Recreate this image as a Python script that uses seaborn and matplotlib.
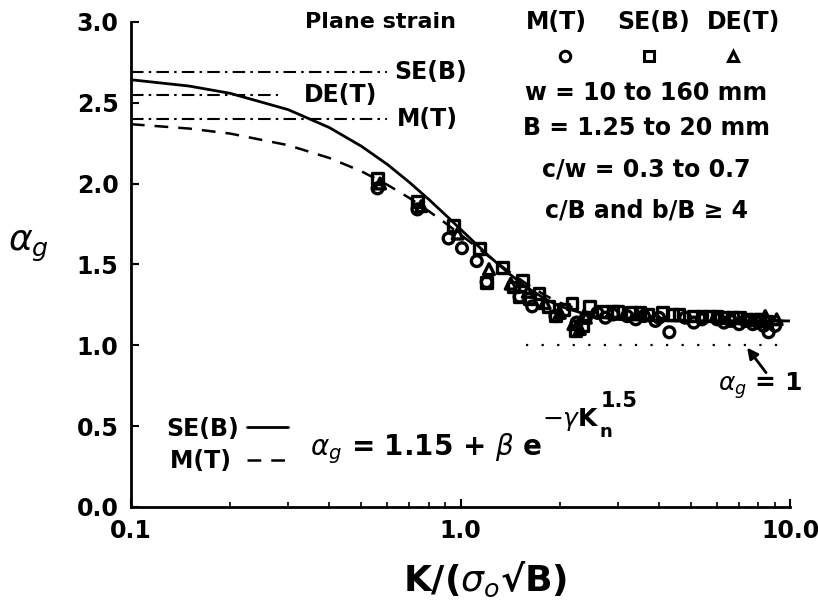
import numpy as np
import pandas as pd
import matplotlib
matplotlib.use("Agg")
import matplotlib.pyplot as plt
from matplotlib.lines import Line2D
from matplotlib.ticker import FixedLocator, NullFormatter, LogLocator
import seaborn as sns

# ---------------- data ----------------
# fitted curves
curve_k = [0.1, 0.15, 0.2, 0.3, 0.4, 0.5, 0.6, 0.7, 0.8, 0.9, 1.0, 1.2, 1.4,
           1.6, 1.8, 2.0, 2.5, 3.0, 4.0, 5.0, 10.0]
seb_curve = [2.642, 2.603, 2.558, 2.457, 2.346, 2.231, 2.118, 2.007, 1.903,
             1.806, 1.717, 1.564, 1.444, 1.353, 1.288, 1.241, 1.180, 1.159,
             1.151, 1.150, 1.150]
mt_curve = [2.367, 2.340, 2.309, 2.237, 2.158, 2.076, 1.992, 1.910, 1.830,
            1.755, 1.684, 1.559, 1.456, 1.374, 1.310, 1.263, 1.193, 1.165,
            1.151, 1.150, 1.150]

# plateau (limit) values
plateau_names = ["SE(B)", "DE(T)", "M(T)"]
plateau_vals = [2.69, 2.55, 2.40]
plateau_end = [0.60, 0.28, 0.60]

# test data
mt_k = [0.56, 0.74, 0.92, 1.01, 1.12, 1.20, 1.51, 1.65, 1.94, 2.25, 2.4, 2.6,
        2.75, 2.9, 3.2, 3.4, 3.6, 3.9, 4.0, 4.3, 4.8, 5.1, 5.4, 6.0, 6.3,
        6.6, 7.0, 7.3, 7.7, 8.0, 8.3, 8.6, 9.0]
mt_a = [1.97, 1.84, 1.66, 1.60, 1.52, 1.39, 1.30, 1.24, 1.18, 1.14, 1.17, 1.20,
        1.17, 1.19, 1.18, 1.16, 1.18, 1.15, 1.17, 1.08, 1.17, 1.14, 1.16, 1.16,
        1.14, 1.15, 1.13, 1.15, 1.13, 1.14, 1.12, 1.08, 1.12]
seb_k = [0.56, 0.74, 0.95, 1.14, 1.20, 1.34, 1.45, 1.51, 1.54, 1.62, 1.73,
         1.85, 1.94, 2.05, 2.18, 2.23, 2.35, 2.46, 2.7, 2.9, 3.0, 3.3, 3.5,
         3.7, 4.1, 4.4, 4.6, 5.1, 5.4, 5.7, 6.0, 6.3, 6.7, 7.0, 7.4, 7.8,
         8.1, 8.5]
seb_a = [2.03, 1.89, 1.74, 1.60, 1.39, 1.48, 1.36, 1.30, 1.40, 1.29, 1.32,
         1.24, 1.18, 1.22, 1.26, 1.09, 1.12, 1.24, 1.21, 1.21, 1.21, 1.20,
         1.20, 1.19, 1.20, 1.19, 1.19, 1.18, 1.18, 1.18, 1.18, 1.17, 1.17,
         1.17, 1.16, 1.16, 1.16, 1.15]
det_k = [0.57, 0.76, 0.98, 1.22, 1.42, 1.60, 1.80, 2.0, 2.2, 2.3, 2.4, 8.4,
         9.1]
det_a = [2.00, 1.86, 1.69, 1.47, 1.38, 1.33, 1.26, 1.20, 1.13, 1.10, 1.17,
         1.18, 1.16]

xtick_vals = [0.1, 1.0, 10.0]
xtick_labels = ["0.1", "1.0", "10.0"]
ytick_vals = [0.0, 0.5, 1.0, 1.5, 2.0, 2.5, 3.0]
ytick_labels = ["0.0", "0.5", "1.0", "1.5", "2.0", "2.5", "3.0"]

# ---------------- style ----------------
sns.set_style("ticks")
plt.rcParams["font.family"] = ["DejaVu Sans"]
plt.rcParams["mathtext.fontset"] = "dejavusans"
plt.rcParams["text.color"] = "black"
plt.rcParams["axes.labelcolor"] = "black"

fig = plt.figure(figsize=(8.18, 6.07), dpi=100)
ax = fig.add_axes([0.160, 0.165, 0.806, 0.799])

# curves
ax.plot(curve_k, seb_curve, color="black", lw=2.0, solid_capstyle="butt")
ax.plot(curve_k, mt_curve, color="black", lw=1.8, linestyle=(0, (5.5, 4)))

# plateau lines
for v, e in zip(plateau_vals, plateau_end):
    ax.hlines(v, 0.1, e, colors="black", lw=1.5,
              linestyles=[(0, (6, 2.5, 1.2, 2.5))])

# alpha_g = 1 dotted line
ax.hlines(1.0, 1.58, 10.0, colors="black", lw=1.6, linestyles=[(0, (1, 6))])

# data points
df = pd.concat([
    pd.DataFrame({"K": mt_k, "a": mt_a, "series": "M(T)"}),
    pd.DataFrame({"K": seb_k, "a": seb_a, "series": "SE(B)"}),
    pd.DataFrame({"K": det_k, "a": det_a, "series": "DE(T)"}),
])
marker_map = {"M(T)": "o", "SE(B)": "s", "DE(T)": "^"}
for name, sub in df.groupby("series"):
    sns.scatterplot(data=sub, x="K", y="a", marker=marker_map[name], s=60,
                    facecolor="none", edgecolor="black", linewidth=2.4,
                    ax=ax, legend=False, zorder=3)

ax.set_xscale("log")
ax.set_xlim(0.1, 10.0)
ax.set_ylim(0.0, 3.0)
ax.xaxis.set_major_locator(FixedLocator(xtick_vals))
ax.set_xticklabels(xtick_labels, fontweight="bold")
ax.xaxis.set_minor_locator(LogLocator(base=10, subs=np.arange(2, 10)))
ax.xaxis.set_minor_formatter(NullFormatter())
ax.set_yticks(ytick_vals)
ax.set_yticklabels(ytick_labels, fontweight="bold")

sns.despine(ax=ax)
for s in ["left", "bottom"]:
    ax.spines[s].set_linewidth(2.0)
    ax.spines[s].set_color("black")
ax.tick_params(axis="both", which="major", direction="in", length=6,
               width=1.5, labelsize=17, colors="black", pad=9)
ax.tick_params(axis="x", which="minor", direction="in", length=3.5,
               width=1.2, colors="black")

ax.set_xlabel(r"K/($\sigma_o$√B)", fontsize=26, fontweight="bold")
ax.xaxis.set_label_coords(0.537, -0.108)
ax.set_ylabel(r"$\alpha_g$", fontsize=26, rotation=0)
ax.yaxis.set_label_coords(-0.155, 0.50)

# annotations
fs = 17
bw = "bold"
ax.text(0.57, 3.0, "Plane strain", fontsize=16, ha="center", va="center",
        fontweight=bw)
ax.text(0.63, 2.69, "SE(B)", fontsize=fs, ha="left", va="center",
        fontweight=bw)
ax.text(0.335, 2.55, "DE(T)", fontsize=fs, ha="left", va="center",
        fontweight=bw)
ax.text(0.64, 2.40, "M(T)", fontsize=fs, ha="left", va="center",
        fontweight=bw)

for lbl, xp in zip(["M(T)", "SE(B)", "DE(T)"], [0.645, 0.793, 0.929]):
    ax.text(xp, 1.0, lbl, transform=ax.transAxes, fontsize=fs,
            ha="center", va="center", fontweight=bw)
info = ["w = 10 to 160 mm", "B = 1.25 to 20 mm", "c/w = 0.3 to 0.7",
        "c/B and b/B ≥ 4"]
for t, yp in zip(info, [0.854, 0.782, 0.695, 0.612]):
    ax.text(0.782, yp, t, transform=ax.transAxes, fontsize=fs,
            ha="center", va="center", fontweight=bw)

# marker key
mk_handles = [Line2D([], [], marker=m, color="black", mfc="none", mew=2.2,
                     ms=7.5, lw=0) for m in ["o", "s", "^"]]
leg1 = ax.legend(mk_handles, ["", "", ""], ncol=3, loc="center",
                 bbox_to_anchor=(0.786, 0.926), frameon=False,
                 handlelength=1.0, handletextpad=0.0, columnspacing=2.55,
                 fontsize=fs, borderpad=0)
ax.add_artist(leg1)

# line key
ln_handles = [Line2D([], [], color="black", lw=2.0),
              Line2D([], [], color="black", lw=1.8, linestyle=(0, (5.5, 4)))]
leg2 = ax.legend(ln_handles, ["SE(B)", "M(T) "], markerfirst=False,
                 loc="center left", bbox_to_anchor=(0.054, 0.128),
                 frameon=False, handlelength=1.7,
                 handletextpad=0.35, labelspacing=0.35, borderpad=0,
                 borderaxespad=0, prop={"size": fs, "weight": bw})

# equation
eq = ax.text(0.349, 0.32, r"$\alpha_g$ = 1.15 + $\beta$ e",
             fontsize=20, ha="left", va="baseline", fontweight=bw)
ex1 = ax.annotate(r"$-\gamma$K", xy=(1.0, 1.0), xycoords=eq,
                  xytext=(0, 4), textcoords="offset points", fontsize=18,
                  ha="left", va="baseline", fontweight=bw)
ax.annotate("1.5", xy=(1.0, 1.0), xycoords=ex1, xytext=(1, -1),
            textcoords="offset points", fontsize=15, ha="left",
            va="baseline", fontweight=bw)
ax.annotate("n", xy=(1.0, 0.0), xycoords=ex1, xytext=(0, -3),
            textcoords="offset points", fontsize=13, ha="left",
            va="baseline", fontweight=bw)

ax.annotate("", xy=(7.4, 0.985), xytext=(8.45, 0.83),
            arrowprops=dict(arrowstyle="-|>", lw=2.0, color="black",
                            mutation_scale=16, shrinkA=0, shrinkB=0))
ax.text(8.1, 0.75, r"$\alpha_g$ = 1", fontsize=18, ha="center", va="center",
        fontweight=bw)

fig.savefig("out.png", dpi=100)
